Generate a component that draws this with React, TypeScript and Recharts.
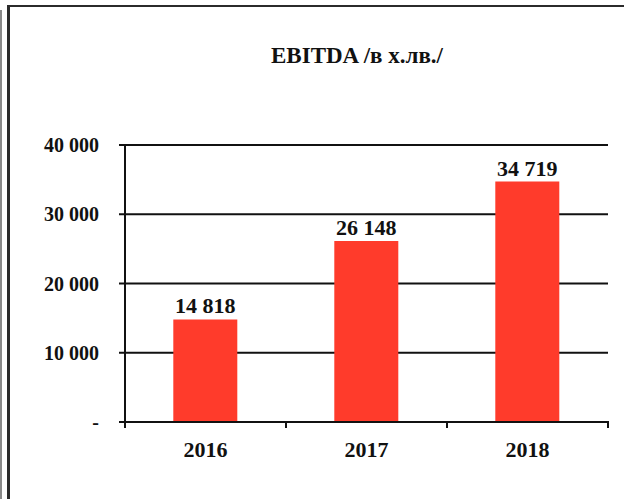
import React from "react";
import { BarChart, Bar, XAxis, YAxis, CartesianGrid, LabelList } from "recharts";

const years = ["2016", "2017", "2018"];
const ebitda = [14818, 26148, 34719];
const yTicks = [0, 10000, 20000, 30000, 40000];
const xTicks = [0, 0.5, 1, 1.5, 2, 2.5, 3];
const title = "EBITDA";
const unit = "/в х.лв./";

const data = years.map((y, i) => ({ year: y, value: ebitda[i], pos: i + 0.5 }));

const FONT = "'Liberation Serif', 'Times New Roman', serif";

const fmt = (v: number) =>
  v === 0 ? "-" : String(v).replace(/\B(?=(\d{3})+(?!\d))/g, " ");

const XTick = (props: any) => {
  const { x, y, payload } = props;
  const v = Number(payload.value);
  if (Number.isInteger(v)) {
    return <line x1={x} y1={y - 1} x2={x} y2={y + 6} stroke="#111" strokeWidth={2} />;
  }
  const label = years[Math.floor(v)];
  return (
    <text
      x={x}
      y={y + 35}
      textAnchor="middle"
      fill="#111"
      fontFamily={FONT}
      fontWeight={700}
      fontSize={22}
    >
      {label}
    </text>
  );
};

export default function App() {
  return (
    <div
      style={{
        position: "absolute",
        left: 0,
        top: 0,
        width: 624,
        height: 499,
        overflow: "hidden",
        background: "#ffffff",
      }}
    >
      <div
        style={{
          position: "absolute",
          left: 0,
          top: 10,
          width: 2,
          height: 489,
          background: "#8a8a8a",
        }}
      />
      <div
        style={{
          position: "absolute",
          left: 7,
          top: 5,
          width: 640,
          height: 520,
          borderLeft: "3px solid #2b2b2b",
          borderTop: "2px solid #2b2b2b",
          boxSizing: "border-box",
        }}
      />
      <div
        style={{
          position: "absolute",
          left: 357,
          top: 44,
          transform: "translateX(-50%)",
          whiteSpace: "nowrap",
          fontFamily: FONT,
          fontWeight: 700,
          fontSize: 23,
          lineHeight: "23px",
          color: "#111",
        }}
      >
        {title} {unit}
      </div>
      <div style={{ position: "absolute", left: 0, top: 0 }}>
        <BarChart
          width={624}
          height={499}
          data={data}
          margin={{ top: 145, right: 16, bottom: 37, left: 0 }}
          barCategoryGap="30%"
        >
          <CartesianGrid
            vertical={false}
            stroke="#111"
            strokeWidth={2}
            strokeOpacity={1}
          />
          <XAxis dataKey="year" hide height={0} />
          <XAxis
            xAxisId="edges"
            type="number"
            dataKey="pos"
            domain={[0, 3]}
            ticks={xTicks}
            interval={0}
            tick={XTick}
            axisLine={{ stroke: "#111", strokeWidth: 2 }}
            tickLine={false}
            tickSize={0}
            tickMargin={0}
            height={40}
            allowDataOverflow
          />
          <YAxis
            domain={[0, 40000]}
            ticks={yTicks}
            tickFormatter={fmt}
            width={125}
            axisLine={{ stroke: "#111", strokeWidth: 2 }}
            tickLine={{ stroke: "#111", strokeWidth: 2 }}
            tickSize={6}
            tickMargin={20}
            interval={0}
            tick={{
              fill: "#111",
              fontFamily: FONT,
              fontWeight: 700,
              fontSize: 20,
            }}
          />
          <YAxis
            yAxisId="right"
            orientation="right"
            domain={[0, 40000]}
            width={0}
            tick={false}
            tickLine={false}
            axisLine={{ stroke: "#111", strokeWidth: 2 }}
          />
          <Bar dataKey="value" fill="#ff3b2b" isAnimationActive={false}>
            <LabelList
              dataKey="value"
              position="top"
              offset={6}
              formatter={(v: any) => fmt(Number(v))}
              style={{
                fill: "#111",
                fontFamily: FONT,
                fontWeight: 700,
                fontSize: 22,
              }}
            />
          </Bar>
        </BarChart>
      </div>
    </div>
  );
}
